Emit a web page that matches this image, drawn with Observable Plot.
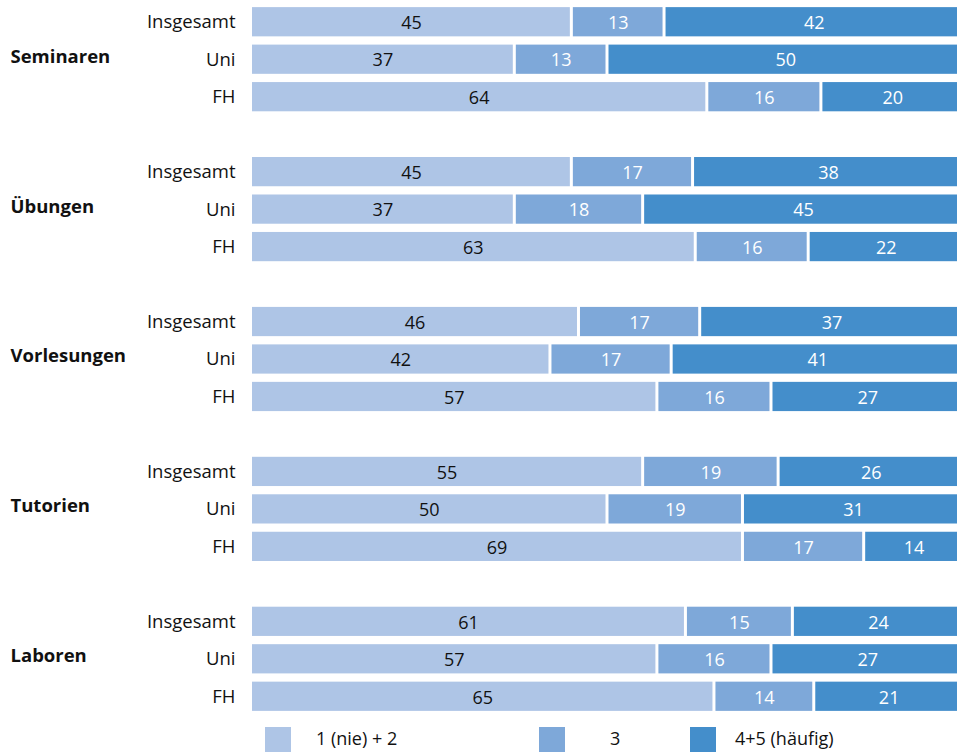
<!DOCTYPE html>
<html><head><meta charset="utf-8">
<script src="https://cdn.jsdelivr.net/npm/d3@7"></script>
<script src="https://cdn.jsdelivr.net/npm/@observablehq/plot@0.6"></script>
<style>
body{margin:0;background:#fff;font-family:"Open Sans",sans-serif;}
#wrap{position:relative;width:957px;overflow:hidden;}
#chart svg{overflow:hidden;}
#legend{position:relative;height:34px;width:957px;font-size:18px;color:#111;}
.sw{position:absolute;top:7px;width:26px;height:25px;}
.lt{position:absolute;top:6px;line-height:25px;}
</style></head>
<body><div id="wrap"><div id="chart"></div><div id="legend"></div></div>
<script>
const groups = ["Seminaren","Übungen","Vorlesungen","Tutorien","Laboren"];
const subs = ["Insgesamt","Uni","FH"];
const cats = ["1 (nie) + 2","3","4+5 (häufig)"];
const colors = ["#aec5e6","#7ea8d9","#448ecb"];
const low  = [45,37,64, 45,37,63, 46,42,57, 55,50,69, 61,57,65];
const mid  = [13,13,16, 17,18,16, 17,17,16, 19,19,17, 15,16,14];
const high = [42,50,20, 38,45,22, 37,41,27, 26,31,14, 24,27,21];
const series = [low, mid, high];

const rows = [];
const domain = [];
groups.forEach((g, gi) => {
  subs.forEach((s, si) => {
    const key = g + "|" + s;
    domain.push(key);
    cats.forEach((c, ci) => rows.push({key, group: g, sub: s, cat: c, ci, value: series[ci][gi*3+si]}));
  });
  if (gi < groups.length - 1) domain.push("gap" + gi);
});
const realKeys = domain.filter(d => d.includes("|"));

const chart = Plot.plot({
  width: 957,
  height: 720,
  marginLeft: 252,
  marginRight: 0,
  marginTop: 3,
  marginBottom: 5,
  style: {fontFamily: "'Open Sans', sans-serif", fontSize: "18px", color: "#111"},
  x: {domain: [0, 1], range: [252, 965], axis: null},
  y: {domain, paddingInner: 0.22, paddingOuter: 0.11, round: false, label: null},
  color: {domain: cats, range: colors},
  marks: [
    Plot.barX(rows, Plot.stackX({x: "value", y: "key", z: "cat", order: "ci", offset: "normalize", fill: "cat", insetRight: 3})),
    Plot.textX(rows, Plot.stackX({x: "value", y: "key", z: "cat", order: "ci", offset: "normalize", text: d => String(d.value), fill: d => d.ci === 0 ? "#111" : "#fff", fontSize: 18, dx: -1.5, dy: 1})),
    Plot.axisY({ticks: realKeys, tickSize: 0, tickPadding: 17, tickFormat: d => d.split("|")[1], fontSize: 18.5, label: null}),
    Plot.text(groups, {y: g => g + "|Uni", text: d => d, frameAnchor: "left", textAnchor: "start", dx: -242, dy: -3, fontWeight: "bold", fontSize: 18.5, fill: "#111"})
  ]
});
document.getElementById("chart").appendChild(chart);

const legend = document.getElementById("legend");
const swX = [265, 539, 690];
const txX = [316, 610, 735];
cats.forEach((c, i) => {
  const sw = document.createElement("div");
  sw.className = "sw"; sw.style.left = swX[i] + "px"; sw.style.background = colors[i];
  legend.appendChild(sw);
  const t = document.createElement("div");
  t.className = "lt"; t.style.left = txX[i] + "px"; t.textContent = c;
  legend.appendChild(t);
});
</script></body></html>
